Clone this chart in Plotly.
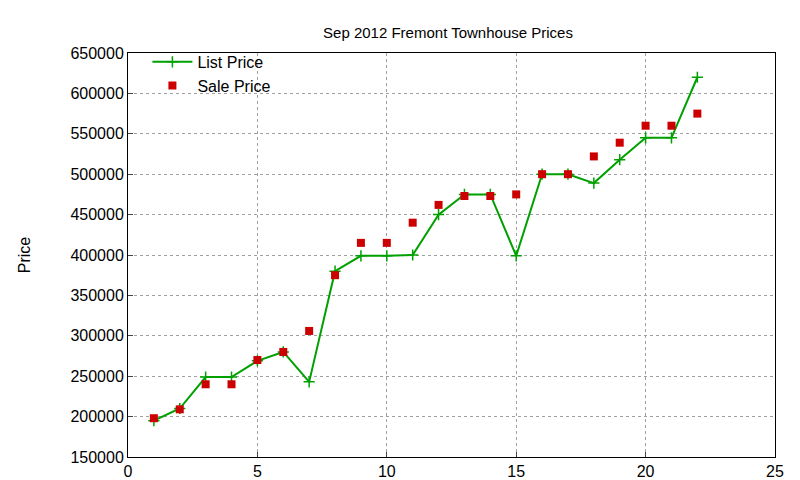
import plotly.graph_objects as go

x = list(range(1, 23))
list_price = [195000, 210000, 249000, 249000, 269000, 280000, 243000, 380000, 399000, 399000, 400000,
              450000, 475000, 475000, 399000, 500000, 500000, 489000, 518000, 545000, 545000, 620000]
sale_price = [198000, 209000, 240000, 240000, 270000, 280000, 306000, 375000, 415000, 415000, 440000,
              462000, 473000, 473000, 475000, 500000, 500000, 522000, 539000, 560000, 560000, 575000]

fig = go.Figure()
fig.add_trace(go.Scatter(x=x, y=list_price, name="List Price", mode="lines+markers",
                         line=dict(color="#00a000", width=2),
                         marker=dict(symbol="cross-thin", size=8, line=dict(color="#00a000", width=1.5))))
fig.add_trace(go.Scatter(x=x, y=sale_price, name="Sale Price", mode="markers",
                         marker=dict(symbol="square", size=8, color="#cc0000")))

ax = dict(showgrid=True, gridcolor="#a0a0a0", griddash="dot", gridwidth=1, zeroline=False,
          showline=True, linecolor="black", mirror=True, ticks="inside", ticklen=5,
          tickfont=dict(size=16, color="black"), automargin=False)
fig.update_xaxes(range=[0, 25], dtick=5, **ax)
fig.update_yaxes(range=[150000, 650000], dtick=50000, tickformat="d",
                 title=dict(text="Price", font=dict(size=16), standoff=35), **ax)
fig.update_layout(
    width=800, height=480, plot_bgcolor="white", paper_bgcolor="white",
    font=dict(family="Liberation Sans, Arial", color="black", size=16),
    title=dict(text="Sep 2012 Fremont Townhouse Prices", x=0.55, xanchor="center",
               y=0.96, font=dict(size=15), automargin=False),
    margin=dict(l=120, r=33, t=45, b=31, autoexpand=False),
    legend=dict(x=0.03, y=1.02, bgcolor="rgba(0,0,0,0)", font=dict(size=16),
                tracegroupgap=0, itemwidth=40),
    showlegend=True,
)
fig.write_html("out.html")
